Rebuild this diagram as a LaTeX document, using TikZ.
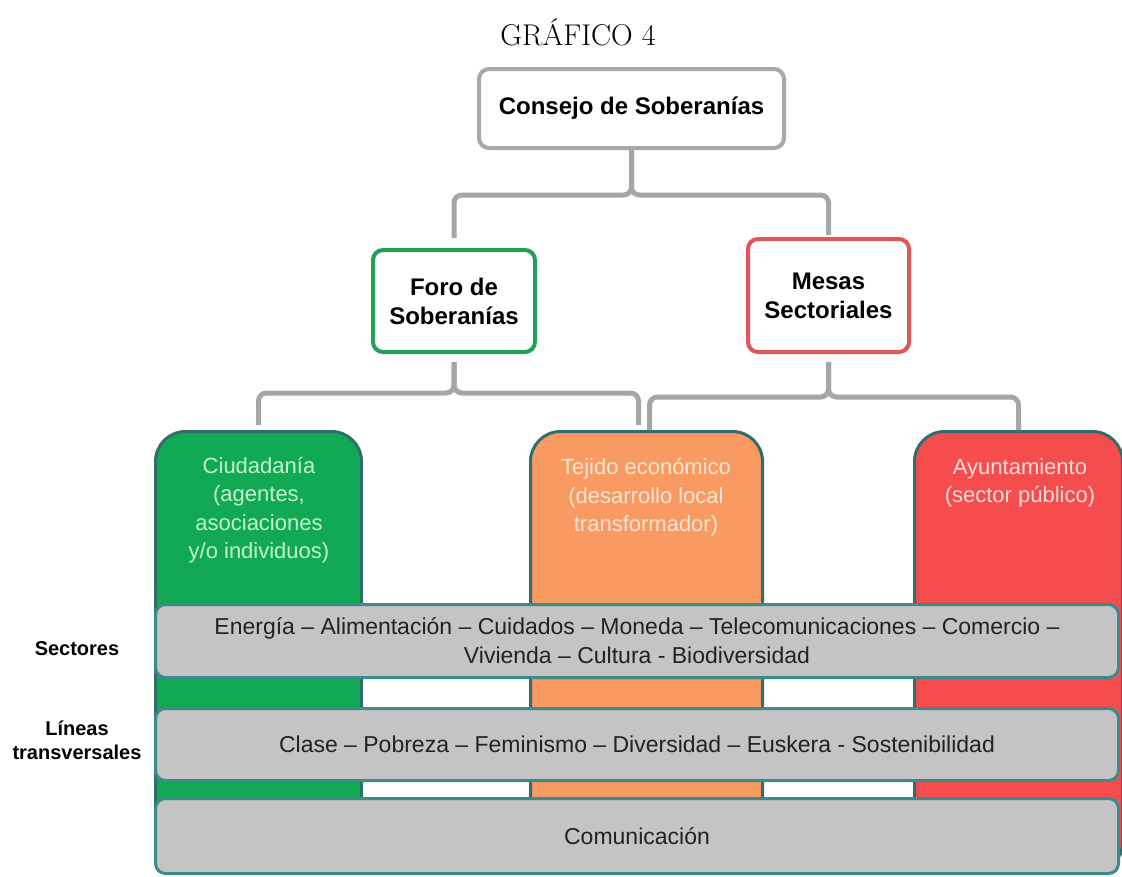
\documentclass[tikz,border=0pt]{standalone}
\usepackage{fontspec}
\setsansfont{Liberation Sans}
\usetikzlibrary{calc}

\definecolor{linkgray}{HTML}{A6A6A6}
\definecolor{boxgray}{HTML}{A8A8A8}
\definecolor{forogreen}{HTML}{22A05A}
\definecolor{mesasred}{HTML}{E05656}
\definecolor{ciugreen}{HTML}{12A955}
\definecolor{tejiorange}{HTML}{F89A62}
\definecolor{ayured}{HTML}{F54D4D}
\definecolor{ciutext}{HTML}{C2F2D0}
\definecolor{tejitext}{HTML}{FDE6D2}
\definecolor{ayutext}{HTML}{FFDADA}
\definecolor{colteal}{HTML}{2F6E6C}
\definecolor{bandgray}{HTML}{C4C4C4}
\definecolor{bandteal}{HTML}{3E8A88}
\definecolor{txtdark}{HTML}{222222}

\begin{document}
\begin{tikzpicture}[x=1pt, y=-1pt,
    link/.style={draw=linkgray, line width=5pt, rounded corners=8pt},
    topbox/.style={draw, line width=4pt, rounded corners=10pt, fill=white, align=center,
        font=\sffamily\bfseries\fontsize{24}{29}\selectfont, text=black},
    col/.style={draw=colteal, line width=3pt, rounded corners=30pt, minimum height=441pt},
    coltext/.style={align=center, font=\sffamily\fontsize{22}{28.5}\selectfont},
    band/.style={draw=bandteal, fill=bandgray, line width=3pt, rounded corners=10pt,
        minimum width=963pt, align=center, font=\sffamily\fontsize{23}{29}\selectfont, text=txtdark},
    sidelabel/.style={align=center, font=\sffamily\bfseries\fontsize{20}{24}\selectfont}]

    \useasboundingbox (0,0) rectangle (1122,876);

    % Titulo
    \node[font=\fontsize{30}{36}\selectfont] (titulo) at (578,32) {GRÁFICO 4};

    % Columnas de los tres agentes
    \node[col, fill=ciugreen, minimum width=206pt] (ciu) at (258.5,652) {};
    \node[col, fill=tejiorange, minimum width=232pt] (teji) at (646.5,652) {};
    \node[col, fill=ayured, minimum width=208pt] (ayu) at (1018.5,652) {};

    \node[coltext, text=ciutext] (ciu-t) at (259,510) {Ciudadanía\\(agentes,\\asociaciones\\y/o individuos)};
    \node[coltext, text=tejitext] (teji-t) at (646,497.5) {Tejido económico\\(desarrollo local\\transformador)};
    \node[coltext, text=ayutext] (ayu-t) at (1020,483) {Ayuntamiento\\(sector público)};

    % Bandas horizontales
    \node[band, minimum height=73pt] (sect) at (637,641)
        {Energía – Alimentación – Cuidados – Moneda – Telecomunicaciones – Comercio –\\Vivienda – Cultura - Biodiversidad};
    \node[band, minimum height=72pt] (lin) at (637,744.5)
        {Clase – Pobreza – Feminismo – Diversidad – Euskera - Sostenibilidad};
    \node[band, minimum height=75pt] (com) at (637,836) {Comunicación};

    \node[sidelabel] (sect-l) at (77,649) {Sectores};
    \node[sidelabel] (lin-l) at (77,740) {Líneas\\transversales};

    % Organos
    \node[topbox, draw=boxgray, minimum width=305pt, minimum height=79pt] (consejo) at (631.5,108.5) {Consejo de Soberanías};
    \node[topbox, draw=forogreen, minimum width=162pt, minimum height=102pt] (foro) at (454,301) {Foro de\\Soberanías};
    \node[topbox, draw=mesasred, minimum width=161pt, minimum height=113pt] (mesas) at (828.5,295.5) {Mesas\\Sectoriales};

    % Conectores tipo llave
    \coordinate (bar1) at (0,195);
    \coordinate (bar2) at (0,393);
    \coordinate (bar3) at (0,397);

    \draw[link, shorten >=10pt] (consejo.south) |- (foro.north |- bar1) -- (foro.north);
    \draw[link, shorten >=2pt] (consejo.south) |- (mesas.north |- bar1) -- (mesas.north);

    \draw[link, shorten <=8pt, shorten >=5pt] (foro.south) |- (ciu.north |- bar2) -- (ciu.north);
    \draw[link, shorten <=8pt, shorten >=5pt] (foro.south) |- ($(teji.north |- bar2)+(-8,0)$) -- ($(teji.north)+(-8,0)$);

    \draw[link, shorten <=8pt] (mesas.south) |- ($(teji.north |- bar3)+(3,0)$) -- ($(teji.north)+(3,0)$);
    \draw[link, shorten <=8pt] (mesas.south) |- (ayu.north |- bar3) -- (ayu.north);

\end{tikzpicture}
\end{document}
